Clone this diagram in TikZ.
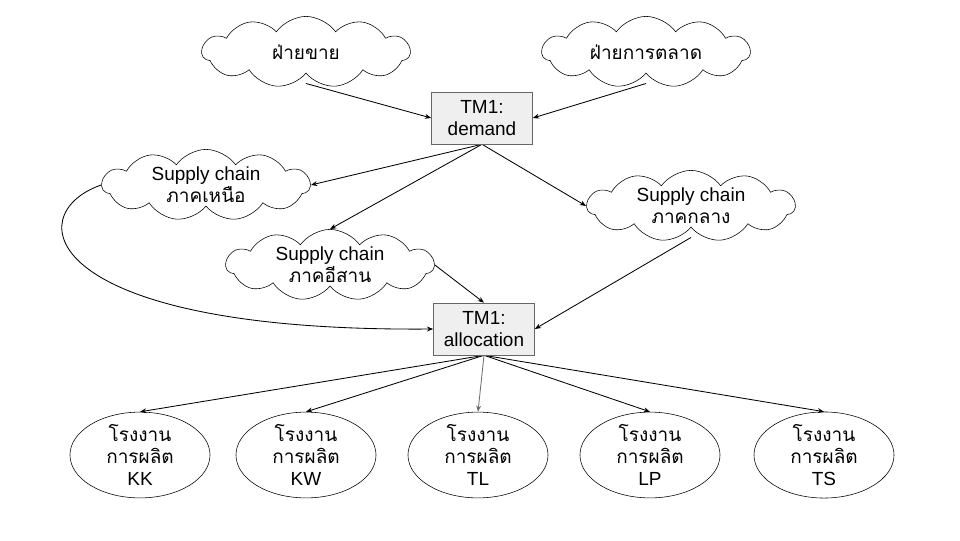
\documentclass[tikz,border=0pt]{standalone}
\usepackage{fontspec}
\setmainfont{Liberation Sans}
\newfontfamily\thaifont[Script=Thai]{Loma}
\usetikzlibrary{shapes.geometric,shapes.symbols,arrows.meta,backgrounds}
\definecolor{tmGray}{RGB}{102,102,102}
\definecolor{tmLightGray}{RGB}{239,239,239}
\definecolor{linkGray}{RGB}{110,110,110}

\begin{document}
\begin{tikzpicture}[x=0.025cm, y=-0.025cm,
    every node/.style={font=\fontsize{13.5}{15.5}\selectfont, align=center, inner sep=0pt},
    puff/.style={cloud, draw, fill=white, cloud puffs=11, cloud puff arc=110, cloud ignores aspect, minimum width=5.2cm, minimum height=1.78cm},
    tmbox/.style={draw=tmGray, fill=tmLightGray, minimum width=2.525cm, minimum height=1.3cm},
    plant/.style={ellipse, draw, minimum width=3.5cm, minimum height=2cm},
    link/.style={-{Stealth[length=4.5pt,width=3.5pt]}, line width=0.6pt}]
    \useasboundingbox (0,0) rectangle (960,540);

    % Departments
    \node[puff] (sales) at (306,52) {\thaifont ฝ่ายขาย};
    \node[puff] (market) at (646,52) {\thaifont ฝ่ายการตลาด};

    % Demand
    \node[tmbox] (demand) at (482,118) {TM1:\\demand};

    % Supply chains
    \node[puff] (north) at (206,185) {Supply chain\\{\thaifont ภาคเหนือ}};
    \node[puff] (central) at (691,206) {Supply chain\\{\thaifont ภาคกลาง}};
    \node[puff] (isan) at (330,265) {Supply chain\\{\thaifont ภาคอีสาน}};

    % Allocation
    \node[tmbox] (alloc) at (484,329) {TM1:\\allocation};

    % Plants
    \node[plant] (kk) at (140,455) {{\thaifont โรงงาน}\\{\thaifont การผลิต}\\KK};
    \node[plant] (kw) at (306,455) {{\thaifont โรงงาน}\\{\thaifont การผลิต}\\KW};
    \node[plant] (tl) at (478,455) {{\thaifont โรงงาน}\\{\thaifont การผลิต}\\TL};
    \node[plant] (lp) at (650,455) {{\thaifont โรงงาน}\\{\thaifont การผลิต}\\LP};
    \node[plant] (ts) at (824,455) {{\thaifont โรงงาน}\\{\thaifont การผลิต}\\TS};

    % Cloud bottoms
    \coordinate (salesfoot) at ([yshift=-0.25cm]sales.south);
    \coordinate (marketfoot) at ([yshift=-0.25cm]market.south);
    \coordinate (centralfoot) at ([yshift=-0.25cm]central.south);

    % Arrows (behind the clouds)
    \begin{scope}[on background layer]
    \draw[link] (salesfoot) -- (demand.west);
    \draw[link] (marketfoot) -- (demand.east);
    \draw[link] (demand.south) -- (north.east);
    \draw[link] (demand.south) -- (isan.north);
    \draw[link] (demand.south) -- (central.west);
    \draw[link] (north.west) .. controls +(-83,29) and +(-393,3) .. (alloc.west);
    \draw[link] (isan.east) -- (alloc.north);
    \draw[link] (centralfoot) -- (alloc.east);
    \draw[link] (alloc.south) -- (kk.north);
    \draw[link] (alloc.south) -- (kw.north);
    \draw[link, linkGray] (alloc.south) -- (tl.north);
    \draw[link] (alloc.south) -- (lp.north);
    \draw[link] (alloc.south) -- (ts.north);
    \end{scope}
\end{tikzpicture}
\end{document}
